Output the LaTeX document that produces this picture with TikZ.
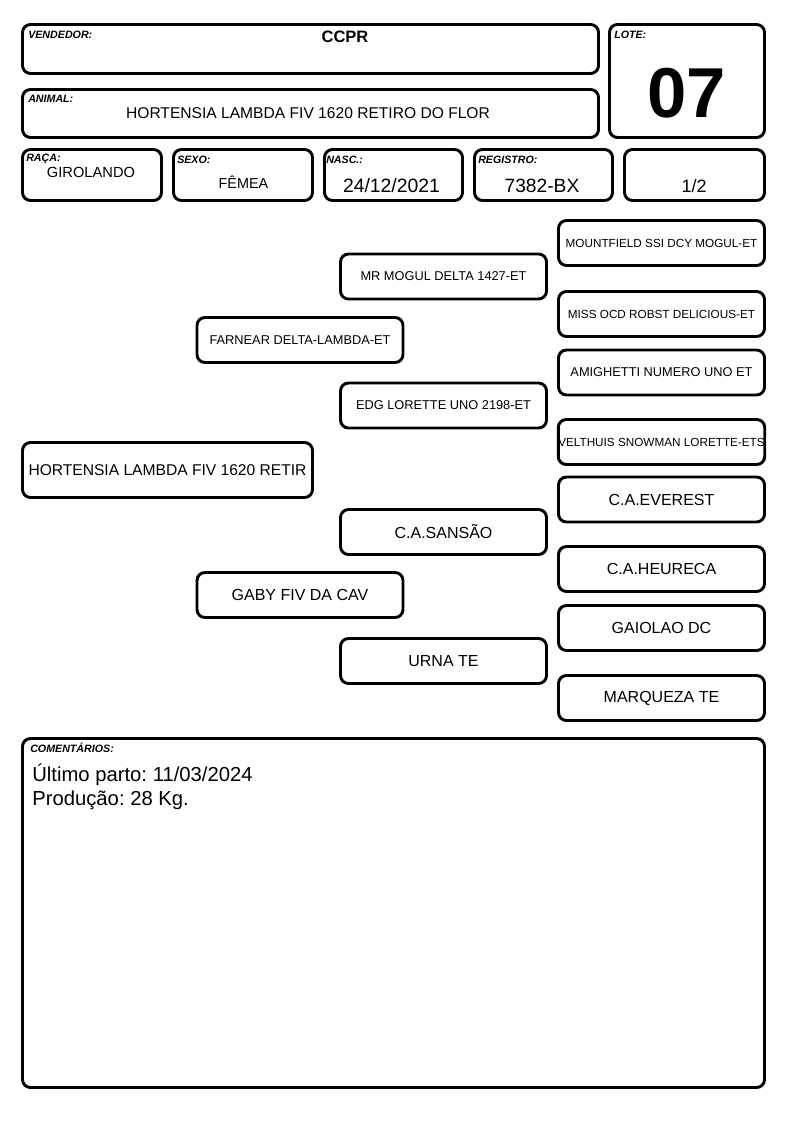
\documentclass[tikz,border=0pt]{standalone}
\usepackage{fontspec}
\setmainfont{Liberation Sans}
\usepackage{tikz}
\frenchspacing

\begin{document}
\begin{tikzpicture}[x=0.75pt, y=-0.75pt,
		box/.style={draw, line width=2.2pt, rounded corners=6pt, inner sep=0pt},
		ped/.style={box, minimum width=154.5pt, minimum height=33.75pt},
		lbl/.style={anchor=base west, inner sep=0pt, font=\fontsize{8}{9}\selectfont\bfseries\itshape},
		val/.style={anchor=base, inner sep=0pt},
		obs/.style={anchor=base west, inner sep=0pt, font=\fontsize{15.2}{18}\selectfont},
		fsa/.style={font=\fontsize{8.8}{10}\selectfont},
		fsb/.style={font=\fontsize{9.6}{11}\selectfont},
		fsc/.style={font=\fontsize{12}{14}\selectfont}]
			\fill [white] (0, 0) rectangle (794, 1123);
			\useasboundingbox (0, 0) rectangle (794, 1123);
			\node [box, minimum width=432pt, minimum height=36.75pt] (vendedor) at (310.5, 49) {};
			\node [box, minimum width=432pt, minimum height=36pt] (animal) at (310.5, 113.5) {};
			\node [box, minimum width=116.25pt, minimum height=84.75pt] (lote) at (687, 81) {};
			\node [box, minimum width=104.25pt, minimum height=38.25pt] (raca) at (92, 175) {};
			\node [box, minimum width=104.25pt, minimum height=38.25pt] (sexo) at (243, 175) {};
			\node [box, minimum width=103.5pt, minimum height=38.25pt] (nasc) at (393.5, 175) {};
			\node [box, minimum width=103.5pt, minimum height=38.25pt] (registro) at (543.5, 175) {};
			\node [box, minimum width=105pt, minimum height=38.25pt] (parte) at (694.5, 175) {};
			\node [lbl] (vendedorlbl) at (28, 39) {VENDEDOR:};
			\node [lbl] (animallbl) at (28, 103) {ANIMAL:};
			\node [lbl] (lotelbl) at (614, 39) {LOTE:};
			\node [lbl] (racalbl) at (26, 162) {RAÇA:};
			\node [lbl] (sexolbl) at (177, 164) {SEXO:};
			\node [lbl] (nasclbl) at (326, 164) {NASC.:};
			\node [lbl] (registrolbl) at (478, 164) {REGISTRO:};
			\node [val, font=\fontsize{12.4}{14}\selectfont\bfseries] (vendedorval) at (345, 43) {CCPR};
			\node [val, font=\fontsize{11.7}{14}\selectfont] (animalval) at (308, 119) {HORTENSIA LAMBDA FIV 1620 RETIRO DO FLOR};
			\node [val, font=\fontsize{53}{60}\selectfont\bfseries] (loteval) at (687, 118) {07};
			\node [val, font=\fontsize{11}{13}\selectfont] (racaval) at (91, 178) {GIROLANDO};
			\node [val, font=\fontsize{10.8}{13}\selectfont] (sexoval) at (243.5, 189) {FÊMEA};
			\node [val, font=\fontsize{14.5}{17}\selectfont] (nascval) at (391.5, 193) {24/12/2021};
			\node [val, font=\fontsize{14.4}{17}\selectfont] (registroval) at (542, 193) {7382-BX};
			\node [val, font=\fontsize{13.5}{17}\selectfont] (parteval) at (694, 193) {1/2};
			\node [ped, fsa] (ppp) at (661.5, 243) {MOUNTFIELD SSI DCY MOGUL-ET};
			\node [ped, fsa] (ppm) at (661.5, 314) {MISS OCD ROBST DELICIOUS-ET};
			\node [ped, fsb] (pmp) at (661.5, 372.5) {AMIGHETTI NUMERO UNO ET};
			\node [ped, fsa, inner xsep=0pt] (pmm) at (661.5, 442) {VELTHUIS SNOWMAN LORETTE-ETS};
			\node [ped, fsc] (mpp) at (661.5, 499.5) {C.A.EVEREST};
			\node [ped, fsc] (mpm) at (661.5, 569) {C.A.HEURECA};
			\node [ped, fsc] (mmp) at (661.5, 628) {GAIOLAO DC};
			\node [ped, fsc] (mmm) at (661.5, 698) {MARQUEZA TE};
			\node [ped, fsb] (pp) at (443.5, 276.5) {MR MOGUL DELTA 1427-ET};
			\node [ped, fsb] (pm) at (443.5, 405.5) {EDG LORETTE UNO 2198-ET};
			\node [ped, fsc] (mp) at (443.5, 532) {C.A.SANSÃO};
			\node [ped, fsc] (mm) at (443.5, 661) {URNA TE};
			\node [ped, fsb] (p) at (300, 340) {FARNEAR DELTA-LAMBDA-ET};
			\node [ped, fsc] (m) at (300, 595) {GABY FIV DA CAV};
			\node [box, minimum width=217.5pt, minimum height=41.25pt, font=\fontsize{11.7}{14}\selectfont] (an) at (167.5, 470) {HORTENSIA LAMBDA FIV 1620 RETIR};
			\node [box, minimum width=556.5pt, minimum height=261.75pt] (coment) at (393.5, 913) {};
			\node [lbl] (comentlbl) at (30, 752) {COMENTÁRIOS:};
			\node [obs] (parto) at (32, 781) {Último parto: 11/03/2024};
			\node [obs] (producao) at (32, 805) {Produção: 28 Kg.};
\end{tikzpicture}
\end{document}
